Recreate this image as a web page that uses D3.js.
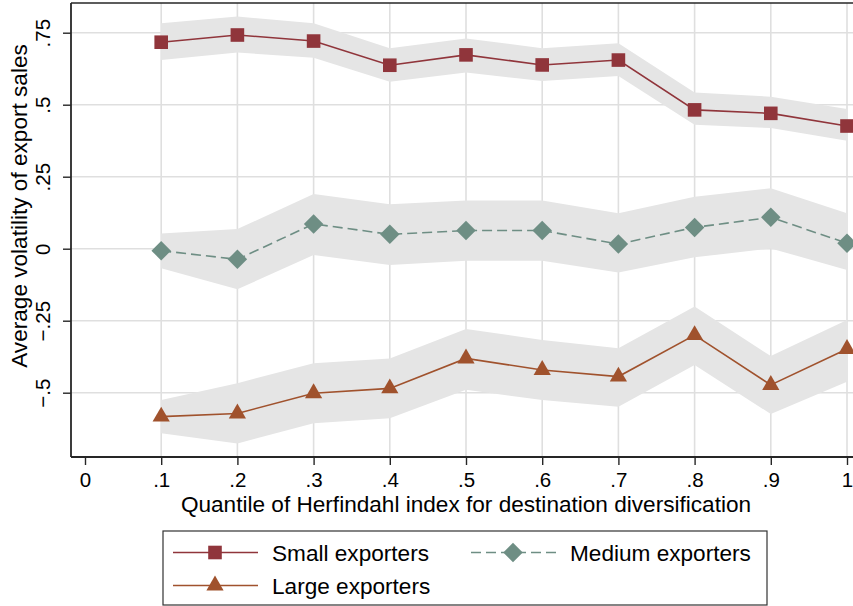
<!DOCTYPE html>
<html>
<head>
<meta charset="utf-8">
<script src="https://cdn.jsdelivr.net/npm/d3@7/dist/d3.min.js"></script>
<style>
  html, body { margin: 0; padding: 0; background: #fff; }
  svg { display: block; font-family: "Liberation Sans", Arial, Helvetica, sans-serif; }
</style>
</head>
<body>
<svg id="chart" width="853" height="606"></svg>
<script>
// ---- data ----
const quantiles = [0.1, 0.2, 0.3, 0.4, 0.5, 0.6, 0.7, 0.8, 0.9, 1.0];

const smallMean  = [0.717, 0.742, 0.721, 0.637, 0.673, 0.638, 0.655, 0.482, 0.470, 0.426];
const smallLower = [0.655, 0.681, 0.663, 0.580, 0.612, 0.582, 0.600, 0.430, 0.419, 0.375];
const smallUpper = [0.783, 0.806, 0.783, 0.696, 0.730, 0.696, 0.713, 0.542, 0.528, 0.485];

const mediumMean  = [-0.007, -0.037, 0.086, 0.050, 0.063, 0.063, 0.016, 0.074, 0.109, 0.019];
const mediumLower = [-0.068, -0.141, -0.022, -0.057, -0.042, -0.042, -0.083, -0.030, 0.001, -0.074];
const mediumUpper = [0.053, 0.068, 0.190, 0.154, 0.167, 0.167, 0.123, 0.180, 0.210, 0.123];

const largeMean  = [-0.583, -0.572, -0.502, -0.485, -0.381, -0.421, -0.444, -0.300, -0.473, -0.348];
const largeLower = [-0.641, -0.676, -0.606, -0.589, -0.490, -0.525, -0.549, -0.404, -0.574, -0.462];
const largeUpper = [-0.525, -0.467, -0.398, -0.381, -0.279, -0.317, -0.346, -0.201, -0.373, -0.248];

const xTickValues = [0, 0.1, 0.2, 0.3, 0.4, 0.5, 0.6, 0.7, 0.8, 0.9, 1];
const xTickLabels = ["0", ".1", ".2", ".3", ".4", ".5", ".6", ".7", ".8", ".9", "1"];
const yTickValues = [-0.5, -0.25, 0, 0.25, 0.5, 0.75];
const yTickLabels = ["\u2212.5", "\u2212.25", "0", ".25", ".5", ".75"];

const seriesNames = ["Small exporters", "Medium exporters", "Large exporters"];

const xTitle = "Quantile of Herfindahl index for destination diversification";
const yTitle = "Average volatility of export sales";

// ---- styles ----
const colSmall = "#90353B", colMedium = "#6E8E84", colLarge = "#A0522D";
const ciFill = "#E5E5E5", gridCol = "#DFDFDF", axisCol = "#262626";
const tickFont = 20.5, titleFont = 22.6;

const svg = d3.select("#chart");
const x = d3.scaleLinear().domain([0, 1]).range([85, 847]);
const y = d3.scaleLinear().domain([-0.5, 0.75]).range([392.7, 32.7]);
const plotLeft = 71, plotRight = 861, plotTop = 3, plotBottom = 457;

// grid
svg.append("g").selectAll("line.h").data(yTickValues).join("line")
  .attr("x1", plotLeft).attr("x2", plotRight)
  .attr("y1", d => y(d)).attr("y2", d => y(d))
  .attr("stroke", gridCol).attr("stroke-width", 1.6);
svg.append("g").selectAll("line.v").data(xTickValues.filter(d => d > 0)).join("line")
  .attr("x1", d => x(d)).attr("x2", d => x(d))
  .attr("y1", plotTop).attr("y2", plotBottom)
  .attr("stroke", gridCol).attr("stroke-width", 1.6);

// symbol helpers
const sq = d3.symbol().type(d3.symbolSquare).size(185)();
const dia = d3.symbol().type(d3.symbolSquare).size(190)();
const tri = d3.symbol().type(d3.symbolTriangle).size(128)();

// series
const series = [
  { name: seriesNames[0], mean: smallMean, lo: smallLower, hi: smallUpper, col: colSmall, dash: null, path: sq, rot: 0 },
  { name: seriesNames[1], mean: mediumMean, lo: mediumLower, hi: mediumUpper, col: colMedium, dash: "10,5", path: dia, rot: 45 },
  { name: seriesNames[2], mean: largeMean, lo: largeLower, hi: largeUpper, col: colLarge, dash: null, path: tri, rot: 0 }
];

const area = d3.area().x((d, i) => x(quantiles[i])).y0(d => y(d[0])).y1(d => y(d[1]));
const line = d3.line().x((d, i) => x(quantiles[i])).y(d => y(d));

series.forEach(s => {
  svg.append("path").datum(s.lo.map((v, i) => [v, s.hi[i]]))
    .attr("d", area).attr("fill", ciFill);
});
series.forEach(s => {
  svg.append("path").datum(s.mean).attr("d", line)
    .attr("fill", "none").attr("stroke", s.col).attr("stroke-width", 1.6)
    .attr("stroke-dasharray", s.dash);
  svg.append("g").selectAll("path").data(s.mean).join("path")
    .attr("transform", (d, i) => `translate(${x(quantiles[i])},${y(d)}) rotate(${s.rot})`)
    .attr("d", s.path)
    .attr("fill", s.col);
});

// frame / axes
svg.append("line").attr("x1", plotLeft).attr("x2", plotRight).attr("y1", plotTop).attr("y2", plotTop)
  .attr("stroke", axisCol).attr("stroke-width", 1.5);

const xAxis = d3.axisBottom(x).tickValues(xTickValues).tickFormat((d, i) => xTickLabels[i]).tickSize(8);
const gx = svg.append("g").attr("transform", `translate(0,${plotBottom})`).call(xAxis);
gx.select(".domain").attr("d", `M${plotLeft},0H${plotRight}`).attr("stroke", axisCol).attr("stroke-width", 1.8);
gx.selectAll(".tick line").attr("stroke", axisCol).attr("stroke-width", 1.4);
gx.selectAll(".tick text").attr("y", 29.5).attr("dy", null)
  .attr("font-size", tickFont).attr("fill", "#000").attr("font-family", "Liberation Sans, Arial, sans-serif");

const yAxis = d3.axisLeft(y).tickValues(yTickValues).tickFormat((d, i) => yTickLabels[i]).tickSize(8).tickPadding(0);
const gy = svg.append("g").attr("transform", `translate(${plotLeft},0)`).call(yAxis);
gy.select(".domain").attr("d", `M0,${plotTop}V${plotBottom}`).attr("stroke", axisCol).attr("stroke-width", 1.8);
gy.selectAll(".tick line").attr("stroke", axisCol).attr("stroke-width", 1.4);
gy.selectAll(".tick text")
  .attr("x", null).attr("dy", null)
  .attr("transform", "translate(-21,0) rotate(-90)")
  .attr("text-anchor", "middle").attr("y", 0)
  .attr("font-size", tickFont).attr("fill", "#000").attr("font-family", "Liberation Sans, Arial, sans-serif");

// titles
svg.append("text").attr("x", (x(0) + x(1)) / 2).attr("y", 512)
  .attr("text-anchor", "middle").attr("font-size", titleFont).attr("fill", "#000").text(xTitle);
svg.append("text").attr("transform", `translate(27,206) rotate(-90)`)
  .attr("text-anchor", "middle").attr("font-size", titleFont).attr("fill", "#000").text(yTitle);

// legend
const lg = svg.append("g");
lg.append("rect").attr("x", 163).attr("y", 531).attr("width", 604).attr("height", 74)
  .attr("fill", "#fff").attr("stroke", "#333").attr("stroke-width", 1.2);
const legendPos = [
  { lx: 173, ly: 552.5 },
  { lx: 471, ly: 552.5 },
  { lx: 173, ly: 585.5 }
];
series.forEach((s, i) => {
  const p = legendPos[i];
  lg.append("line").attr("x1", p.lx).attr("x2", p.lx + 85).attr("y1", p.ly).attr("y2", p.ly)
    .attr("stroke", s.col).attr("stroke-width", 1.6).attr("stroke-dasharray", s.dash);
  lg.append("path").attr("transform", `translate(${p.lx + 42},${p.ly}) rotate(${s.rot})`)
    .attr("d", s.path).attr("fill", s.col);
  lg.append("text").attr("x", p.lx + 99).attr("y", p.ly + 8).attr("font-size", titleFont).attr("fill", "#000").text(s.name);
});
</script>
</body>
</html>
